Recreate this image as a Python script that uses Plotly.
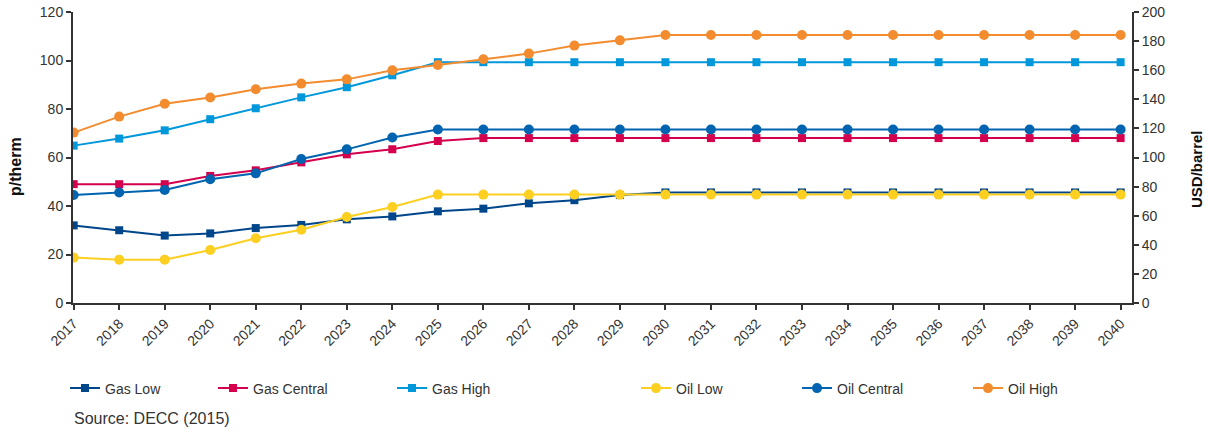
import plotly.graph_objects as go

years = list(range(2017, 2041))

# Gas prices, p/therm (left axis)
gas_low = [32.0, 30.0, 27.8, 28.7, 30.9, 32.2, 34.5, 35.7, 37.8, 38.9, 41.1, 42.4, 44.5] + [45.6] * 11
gas_central = [49.0, 49.0, 49.0, 52.4, 54.7, 58.0, 61.3, 63.4, 66.8] + [68.0] * 15
gas_high = [64.9, 67.8, 71.2, 75.8, 80.3, 84.8, 89.0, 93.9] + [99.3] * 16

# Oil prices, USD/barrel (right axis)
oil_low = [31.2, 29.8, 29.8, 36.4, 44.5, 50.4, 59.1, 66.0] + [74.5] * 16
oil_central = [74.2, 75.9, 77.7, 85.0, 89.1, 99.0, 105.6, 113.7] + [119.2] * 16
oil_high = [117.1, 128.1, 137.0, 141.2, 146.9, 150.8, 153.7, 159.9, 163.6,
            167.5, 171.4, 176.9, 180.5] + [184.2] * 11

series = [
    ("Gas Low", gas_low, "#00468b", "square", "y", "legend"),
    ("Gas Central", gas_central, "#d4004d", "square", "y", "legend2"),
    ("Gas High", gas_high, "#0098db", "square", "y", "legend3"),
    ("Oil Low", oil_low, "#fdcf21", "circle", "y2", "legend4"),
    ("Oil Central", oil_central, "#0064b0", "circle", "y2", "legend5"),
    ("Oil High", oil_high, "#f28c2f", "circle", "y2", "legend6"),
]

FONT = "Liberation Sans, Arial, sans-serif"
W, H = 1206, 430
ML, MR, MT, MB = 73, 74, 12, 127
PW = W - ML - MR
PH = H - MT - MB


def px_x(px):
    return (px - ML) / PW


def px_y(py):
    return (H - MB - py) / PH


fig = go.Figure()
for name, vals, color, sym, yax, leg in series:
    fig.add_trace(go.Scatter(
        x=years, y=vals, name=name, mode="lines+markers", yaxis=yax, legend=leg,
        line=dict(color=color, width=2),
        marker=dict(symbol=sym, size=8 if sym == "square" else 10, color=color),
    ))

# one single-entry legend per series, placed along the bottom row
legend_px = [65, 213, 392, 636, 797, 968]
legend_cfg = {}
for i, px in enumerate(legend_px):
    key = "legend" if i == 0 else f"legend{i + 1}"
    legend_cfg[key] = dict(
        x=px_x(px), xanchor="left", y=px_y(388.5), yanchor="middle",
        orientation="h", bgcolor="rgba(0,0,0,0)",
        font=dict(family=FONT, size=14, color="#333"), itemwidth=30,
        borderwidth=0,
    )

axis_common = dict(
    showline=True, linecolor="#333", linewidth=2, ticks="outside", ticklen=5,
    tickcolor="#333", tickwidth=1.5, showgrid=False, zeroline=False,
    automargin=False,
    tickfont=dict(family=FONT, size=14, color="#333"),
)

fig.update_layout(
    width=W, height=H, margin=dict(l=ML, r=MR, t=MT, b=MB, autoexpand=False),
    paper_bgcolor="white", plot_bgcolor="white",
    showlegend=True,
    xaxis=dict(range=[2016.985, 2040.25], tickvals=years, ticktext=[str(y) for y in years],
               tickangle=-45, **axis_common),
    yaxis=dict(range=[0, 120], dtick=20, **axis_common),
    yaxis2=dict(range=[0, 200], dtick=20, overlaying="y", side="right", **axis_common),
    **legend_cfg,
    annotations=[
        dict(text="<b>p/therm</b>", x=px_x(15), y=px_y(167), xref="paper", yref="paper",
             xanchor="center", yanchor="middle", showarrow=False, textangle=-90,
             font=dict(family=FONT, size=16, color="#111")),
        dict(text="<b>USD/barrel</b>", x=px_x(1196), y=px_y(169), xref="paper", yref="paper",
             xanchor="center", yanchor="middle", showarrow=False, textangle=-90,
             font=dict(family=FONT, size=15, color="#111")),
        dict(text="Source: DECC (2015)", x=px_x(72), y=px_y(418), xref="paper", yref="paper",
             xanchor="left", yanchor="middle", showarrow=False,
             font=dict(family=FONT, size=16, color="#333")),
    ],
)

fig.write_html("out.html")
